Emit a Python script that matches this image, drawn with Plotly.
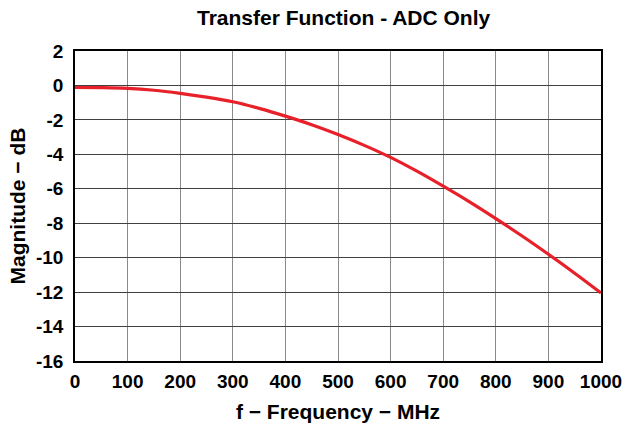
import plotly.graph_objects as go

freq_mhz = [0, 50, 100, 150, 200, 250, 300, 350, 400, 450, 500, 550, 600, 650, 700, 750, 800, 850, 900, 950, 1000]
magnitude_db = [-0.12, -0.13, -0.17, -0.28, -0.46, -0.68, -0.95, -1.33, -1.78, -2.28, -2.85, -3.48, -4.18, -4.98, -5.85, -6.76, -7.73, -8.74, -9.8, -10.9, -12.05]

x_ticks = [0, 100, 200, 300, 400, 500, 600, 700, 800, 900, 1000]
y_ticks = [2, 0, -2, -4, -6, -8, -10, -12, -14, -16]

font_family = "Liberation Sans, Arial, sans-serif"

fig = go.Figure()
fig.add_trace(go.Scatter(
    x=freq_mhz, y=magnitude_db, mode="lines",
    line=dict(color="#e8202a", width=3.2, shape="spline"),
    showlegend=False, hoverinfo="skip",
))

fig.update_layout(
    width=627, height=429,
    margin=dict(l=75, r=26, t=51, b=68, autoexpand=False),
    paper_bgcolor="white", plot_bgcolor="white",
    font=dict(family=font_family, color="black"),
    title=dict(text="<b>Transfer Function - ADC Only</b>", x=0.548, xanchor="center",
               y=0.958, yanchor="middle", font=dict(size=21, family=font_family)),
)

fig.update_xaxes(
    range=[0, 1000], tickmode="array", tickvals=x_ticks,
    ticktext=[f"<b>{v}</b>" for v in x_ticks],
    tickfont=dict(size=19), ticks="", ticklabelstandoff=2, automargin=False,
    showgrid=True, gridcolor="#8a8a8a", gridwidth=1,
    showline=True, linecolor="black", linewidth=1.5, mirror=True, zeroline=False,
    title=dict(text="<b>f − Frequency − MHz</b>", font=dict(size=21), standoff=14),
)
fig.update_yaxes(
    range=[-16, 2], tickmode="array", tickvals=y_ticks,
    ticktext=[f"<b>{v}</b>" for v in y_ticks],
    tickfont=dict(size=19), ticks="", ticklabelstandoff=6, automargin=False,
    showgrid=True, gridcolor="#404040", gridwidth=1,
    showline=True, linecolor="black", linewidth=1.5, mirror=True, zeroline=False,
    title=dict(text="<b>Magnitude − dB</b>", font=dict(size=21), standoff=5),
)

fig.write_html(
    "out.html",
    config={"displayModeBar": False},
    post_script="document.body.style.margin='0';document.body.style.overflow='hidden';",
)
